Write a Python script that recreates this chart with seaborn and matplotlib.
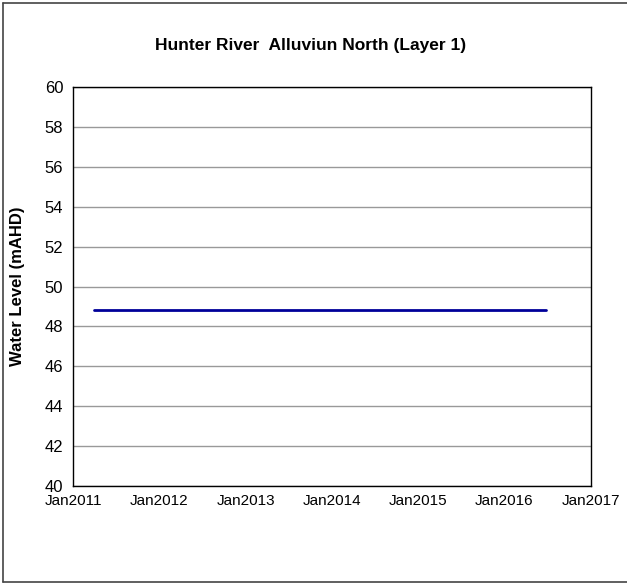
import pandas as pd
import matplotlib
matplotlib.use("Agg")
import matplotlib.pyplot as plt
from matplotlib.lines import Line2D
import seaborn as sns

# data
dates = ["2011-04-01", "2016-06-25"]
levels = [48.8, 48.8]
yticks = [40, 42, 44, 46, 48, 50, 52, 54, 56, 58, 60]
xtick_years = [2011, 2012, 2013, 2014, 2015, 2016, 2017]

df = pd.DataFrame({"date": pd.to_datetime(dates), "level": levels})

sns.set_style("white")
plt.rcParams['font.family'] = ['Liberation Sans', 'DejaVu Sans']
plt.rcParams['text.color'] = 'black'
plt.rcParams['axes.labelcolor'] = 'black'
plt.rcParams['xtick.color'] = 'black'
plt.rcParams['ytick.color'] = 'black'

fig = plt.figure(figsize=(6.27, 5.84), dpi=100)
ax = fig.add_axes([0.1164, 0.1678, 0.8262, 0.6832])

sns.lineplot(data=df, x="date", y="level", ax=ax, color="#000099", linewidth=2)

ax.set_ylim(40, 60)
ax.set_yticks(yticks)
ax.set_xlim(pd.Timestamp("2011-01-01"), pd.Timestamp("2017-01-01"))
xt = [pd.Timestamp(f"{y}-01-01") for y in xtick_years]
ax.set_xticks(xt)
ax.set_xticklabels([f"Jan{y}" for y in xtick_years], fontsize=11)
ax.tick_params(axis='y', labelsize=12, direction='out', length=5, width=1, color='black', pad=2)
ax.tick_params(axis='x', direction='out', length=5, width=1, color='black', pad=1)
ax.yaxis.grid(True, color='#999999', linewidth=1)
ax.set_axisbelow(True)
for s in ax.spines.values():
    s.set_color('black')
    s.set_linewidth(1)
    s.set_visible(True)

ax.set_xlabel("")
ax.set_ylabel("Water Level (mAHD)", fontsize=12, fontweight='bold')
ax.yaxis.set_label_coords(-0.0927, 0.5)
fig.text(0.495, 0.922, "Hunter River  Alluviun North (Layer 1)", ha='center', va='center',
         fontsize=12.5, fontweight='bold', color='black')

# outer chart border (left, top, bottom edges)
border = dict(transform=fig.transFigure, color='#444444', linewidth=1.2)
fig.lines.append(Line2D([0.004, 0.004], [0.003, 0.995], **border))
fig.lines.append(Line2D([0.004, 1.0], [0.995, 0.995], **border))
fig.lines.append(Line2D([0.004, 1.0], [0.003, 0.003], **border))

fig.savefig("out.png", dpi=100)
